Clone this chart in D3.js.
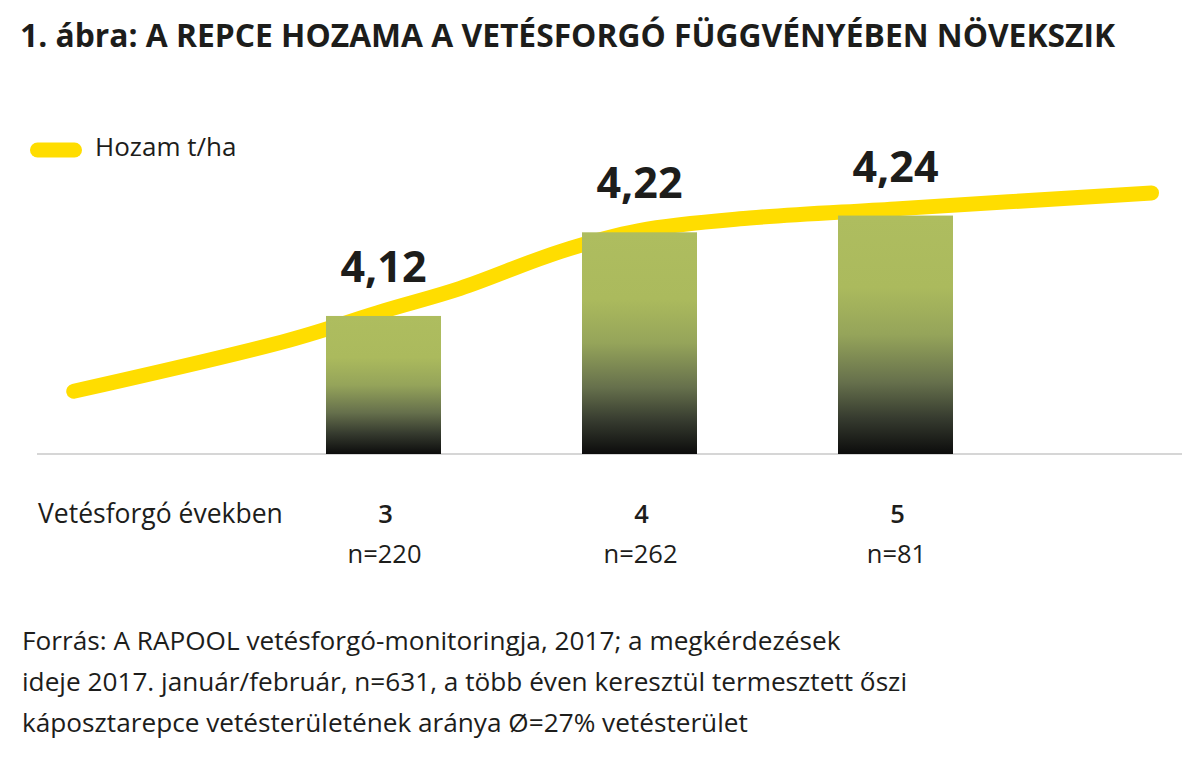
<!DOCTYPE html>
<html><head><meta charset="utf-8">
<script src="https://cdn.jsdelivr.net/npm/d3@7"></script>
<style>
html,body{margin:0;padding:0;background:#fff;}
svg{display:block;font-family:"Open Sans",sans-serif;}
</style>
</head><body>
<svg id="chart" width="1200" height="765"></svg>
<script>
// ---- data ----
const titleText = "1. ábra: A REPCE HOZAMA A VETÉSFORGÓ FÜGGVÉNYÉBEN NÖVEKSZIK";
const legendLabel = "Hozam t/ha";
const axisTitle = "Vetésforgó években";
const rotationYears = [3, 4, 5];
const sampleSizes = ["n=220", "n=262", "n=81"];
const yieldValues = [4.12, 4.22, 4.24];
const yieldLabels = ["4,12", "4,22", "4,24"];
const trendYears  = [1.79, 2.63, 3, 3.3, 3.69, 4, 4.43, 5, 6];
const trendValues = [4.030, 4.091, 4.126, 4.153, 4.197, 4.222, 4.237, 4.248, 4.267];
const sourceLines = [
  "Forrás: A RAPOOL vetésforgó-monitoringja, 2017; a megkérdezések",
  "ideje 2017. január/február, n=631, a több éven keresztül termesztett őszi",
  "káposztarepce vetésterületének aránya Ø=27% vetésterület"
];

// ---- setup ----
const svg = d3.select("#chart");
const ink = "#1d1d1b";
const yellow = "#ffdd00";

const x = d3.scaleLinear().domain([3, 5]).range([383.5, 895.5]);
const y = d3.scaleLinear().domain([3.955, 4.31]).range([454, 157]);
const barW = 115;

// gradient for bars
const defs = svg.append("defs");
const grad = defs.append("linearGradient").attr("id", "barGrad")
  .attr("x1", 0).attr("y1", 0).attr("x2", 0).attr("y2", 1);
[[0, "#aebd5f"], [0.3, "#abba5d"], [0.5, "#95a45a"], [0.7, "#66704c"], [0.85, "#363b2f"], [1, "#0c0c0c"]]
  .forEach(([o, c]) => grad.append("stop").attr("offset", o).attr("stop-color", c));

// title
svg.append("text").attr("x", 20).attr("y", 47)
  .attr("font-size", 31.8).attr("font-weight", 700).attr("fill", ink)
  .text(titleText);

// legend
svg.append("line").attr("x1", 37.5).attr("x2", 74.5).attr("y1", 150).attr("y2", 150)
  .attr("stroke", yellow).attr("stroke-width", 15).attr("stroke-linecap", "round");
svg.append("text").attr("x", 95).attr("y", 156)
  .attr("font-size", 26).attr("fill", ink).text(legendLabel);

// baseline
svg.append("line").attr("x1", 37).attr("x2", 1182).attr("y1", y(3.955)).attr("y2", y(3.955))
  .attr("stroke", "#c8c8c8").attr("stroke-width", 1.5);

// trend curve
const trend = trendYears.map((t, i) => [t, trendValues[i]]);
svg.append("path").datum(trend)
  .attr("fill", "none").attr("stroke", yellow).attr("stroke-width", 15)
  .attr("stroke-linecap", "round").attr("stroke-linejoin", "round")
  .attr("d", d3.line().x(d => x(d[0])).y(d => y(d[1])).curve(d3.curveCatmullRom.alpha(0.5)));

// bars
svg.selectAll("rect.bar").data(yieldValues).join("rect").attr("class", "bar")
  .attr("x", (d, i) => x(rotationYears[i]) - barW / 2)
  .attr("width", barW)
  .attr("y", d => y(d))
  .attr("height", d => y(3.955) - y(d))
  .attr("fill", "url(#barGrad)");

// value labels
svg.selectAll("text.val").data(yieldValues).join("text").attr("class", "val")
  .attr("x", (d, i) => x(rotationYears[i]))
  .attr("y", d => y(d) - 34)
  .attr("text-anchor", "middle").attr("font-size", 43).attr("font-weight", 700)
  .attr("fill", ink)
  .text((d, i) => yieldLabels[i]);

// x axis labels
svg.append("text").attr("x", 38).attr("y", 523)
  .attr("font-size", 26.5).attr("fill", ink).text(axisTitle);
svg.selectAll("text.year").data(rotationYears).join("text").attr("class", "year")
  .attr("x", d => x(d) + 2).attr("y", 523)
  .attr("text-anchor", "middle").attr("font-size", 25.5).attr("font-weight", 600)
  .attr("fill", ink).text(d => d);
svg.selectAll("text.n").data(sampleSizes).join("text").attr("class", "n")
  .attr("x", (d, i) => x(rotationYears[i]) + 1).attr("y", 563)
  .attr("text-anchor", "middle").attr("font-size", 25.5)
  .attr("fill", ink).text(d => d);

// source
svg.selectAll("text.src").data(sourceLines).join("text").attr("class", "src")
  .attr("x", 22).attr("y", (d, i) => 650 + i * 41)
  .attr("font-size", 26.2).attr("fill", ink).text(d => d);
</script>
</body></html>
